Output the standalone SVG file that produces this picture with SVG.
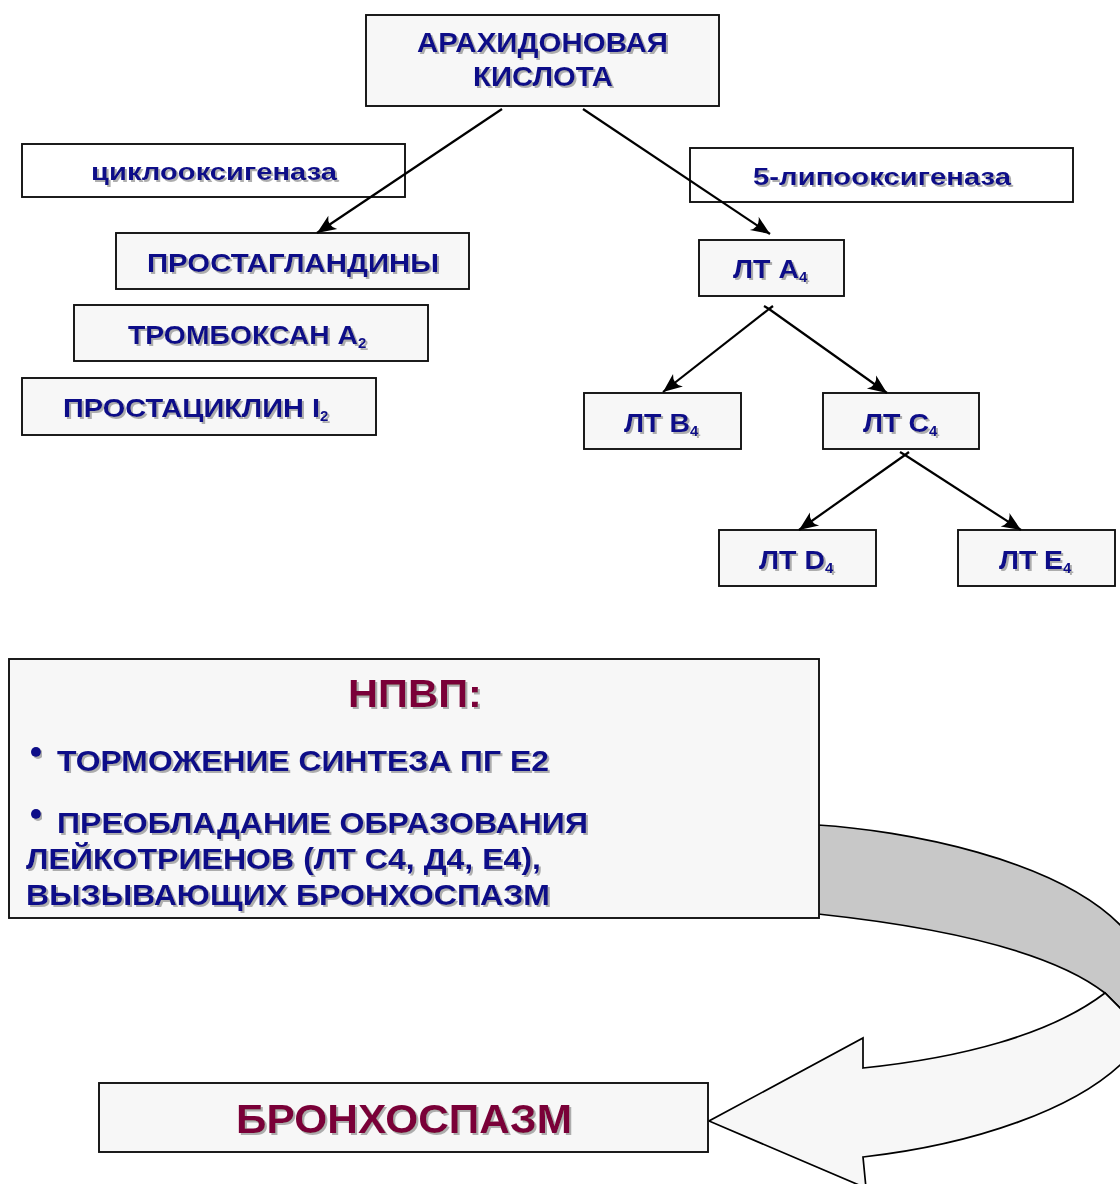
<svg xmlns="http://www.w3.org/2000/svg" width="1120" height="1184" viewBox="0 0 1120 1184">
<defs>
<style>
.box{fill:#f7f7f7;stroke:#111;stroke-width:1.9}
.wbox{fill:#ffffff;stroke:#111;stroke-width:1.9}
.t{font-family:"Liberation Sans",Arial,sans-serif;font-weight:bold;fill:#0a0a88;filter:url(#sh)}
.r{font-family:"Liberation Sans",Arial,sans-serif;font-weight:bold;fill:#7a0038;filter:url(#sh)}
.c{stroke:#000;stroke-width:2.2;fill:none}
.ca{stroke:#000;stroke-width:2.2;fill:none;marker-end:url(#ah)}
.ring{stroke:#000;stroke-width:1.7}
</style>
<filter id="sh" x="-5%" y="-20%" width="110%" height="150%">
<feDropShadow dx="2" dy="2" stdDeviation="0.6" flood-color="#9a9a9a" flood-opacity="0.8"/>
</filter>
<marker id="ah" markerUnits="userSpaceOnUse" markerWidth="22" markerHeight="18" refX="20" refY="8" orient="auto" viewBox="0 0 22 16">
<path d="M20,8 L1,0 Q8,8 1,16 Z" fill="#000"/>
</marker>
</defs>

<g id="ring-arrow">
<path class="ring" fill="#c8c8c8" d="M818,825 C900,830 1060,858 1125,930 L1140,960 L1140,1028 L1105,993 C1060,958 967,930 818,914 Z"/>
<path class="ring" fill="#f7f7f7" d="M1105,993 C1050,1035 960,1058 863,1068 L863,1038 L709,1121 L866,1188 L863,1157 C970,1145 1080,1110 1130,1055 L1140,1028 Z"/>
</g>

<g id="n-arach">
<rect class="box" x="366" y="15" width="353" height="91"/>
<text class="t" font-size="28" x="542.5" y="52" text-anchor="middle" textLength="251" lengthAdjust="spacingAndGlyphs">АРАХИДОНОВАЯ</text>
<text class="t" font-size="28" x="543" y="86" text-anchor="middle" textLength="140" lengthAdjust="spacingAndGlyphs">КИСЛОТА</text>
</g>

<g id="n-cox">
<rect class="wbox" x="22" y="144" width="383" height="53"/>
<text class="t" font-size="24" x="91" y="180" textLength="246" lengthAdjust="spacingAndGlyphs">циклооксигеназа</text>
</g>

<g id="n-lox">
<rect class="wbox" x="690" y="148" width="383" height="54"/>
<text class="t" font-size="24" x="753" y="185" textLength="258" lengthAdjust="spacingAndGlyphs">5-липооксигеназа</text>
</g>

<g id="n-pg">
<rect class="box" x="116" y="233" width="353" height="56"/>
<text class="t" font-size="25" x="147" y="272" textLength="292" lengthAdjust="spacingAndGlyphs">ПРОСТАГЛАНДИНЫ</text>
</g>

<g id="n-tx">
<rect class="box" x="74" y="305" width="354" height="56"/>
<text class="t" font-size="25" x="128" y="344"><tspan textLength="230" lengthAdjust="spacingAndGlyphs">ТРОМБОКСАН А</tspan><tspan font-size="15" dy="4">2</tspan></text>
</g>

<g id="n-pc">
<rect class="box" x="22" y="378" width="354" height="57"/>
<text class="t" font-size="25" x="63" y="417"><tspan textLength="257" lengthAdjust="spacingAndGlyphs">ПРОСТАЦИКЛИН I</tspan><tspan font-size="15" dy="4">2</tspan></text>
</g>

<g id="n-lta4">
<rect class="box" x="699" y="240" width="145" height="56"/>
<text class="t" font-size="25" x="733" y="278"><tspan textLength="66" lengthAdjust="spacingAndGlyphs">ЛТ А</tspan><tspan font-size="15" dy="4">4</tspan></text>
</g>

<g id="n-ltb4">
<rect class="box" x="584" y="393" width="157" height="56"/>
<text class="t" font-size="25" x="624" y="432"><tspan textLength="66" lengthAdjust="spacingAndGlyphs">ЛТ В</tspan><tspan font-size="15" dy="4">4</tspan></text>
</g>

<g id="n-ltc4">
<rect class="box" x="823" y="393" width="156" height="56"/>
<text class="t" font-size="25" x="863" y="432"><tspan textLength="66" lengthAdjust="spacingAndGlyphs">ЛТ С</tspan><tspan font-size="15" dy="4">4</tspan></text>
</g>

<g id="n-ltd4">
<rect class="box" x="719" y="530" width="157" height="56"/>
<text class="t" font-size="25" x="759" y="569"><tspan textLength="66" lengthAdjust="spacingAndGlyphs">ЛТ D</tspan><tspan font-size="15" dy="4">4</tspan></text>
</g>

<g id="n-lte4">
<rect class="box" x="958" y="530" width="157" height="56"/>
<text class="t" font-size="25" x="999" y="569"><tspan textLength="64" lengthAdjust="spacingAndGlyphs">ЛТ Е</tspan><tspan font-size="15" dy="4">4</tspan></text>
</g>

<g id="n-nsaid">
<rect class="box" x="9" y="659" width="810" height="259"/>
<text class="r" font-size="39" x="415" y="707" text-anchor="middle" textLength="134" lengthAdjust="spacingAndGlyphs">НПВП:</text>
<circle cx="36" cy="752" r="5" fill="#0a0a88" filter="url(#sh)"/>
<text class="t" font-size="30" x="57" y="771" textLength="492" lengthAdjust="spacingAndGlyphs">ТОРМОЖЕНИЕ СИНТЕЗА ПГ Е2</text>
<circle cx="36" cy="814" r="5" fill="#0a0a88" filter="url(#sh)"/>
<text class="t" font-size="30" x="57" y="833" textLength="531" lengthAdjust="spacingAndGlyphs">ПРЕОБЛАДАНИЕ ОБРАЗОВАНИЯ</text>
<text class="t" font-size="30" x="26" y="869" textLength="515" lengthAdjust="spacingAndGlyphs">ЛЕЙКОТРИЕНОВ (ЛТ С4, Д4, Е4),</text>
<text class="t" font-size="30" x="26" y="905" textLength="524" lengthAdjust="spacingAndGlyphs">ВЫЗЫВАЮЩИХ БРОНХОСПАЗМ</text>
</g>

<g id="n-broncho">
<rect class="box" x="99" y="1083" width="609" height="69"/>
<text class="r" font-size="41" x="404" y="1133" text-anchor="middle" textLength="336" lengthAdjust="spacingAndGlyphs">БРОНХОСПАЗМ</text>
</g>

<g id="connectors">
<line class="ca" x1="502" y1="109" x2="317" y2="233"/>
<line class="ca" x1="583" y1="109" x2="770" y2="234"/>
<line class="c" x1="773" y1="306" x2="769" y2="309"/>
<line class="c" x1="764" y1="306" x2="769" y2="309"/>
<line class="ca" x1="769" y1="309" x2="663" y2="392"/>
<line class="ca" x1="769" y1="309" x2="887" y2="393"/>
<line class="c" x1="909" y1="452" x2="905" y2="455"/>
<line class="c" x1="900" y1="452" x2="905" y2="455"/>
<line class="ca" x1="905" y1="455" x2="799" y2="530"/>
<line class="ca" x1="905" y1="455" x2="1021" y2="530"/>
</g>
</svg>
